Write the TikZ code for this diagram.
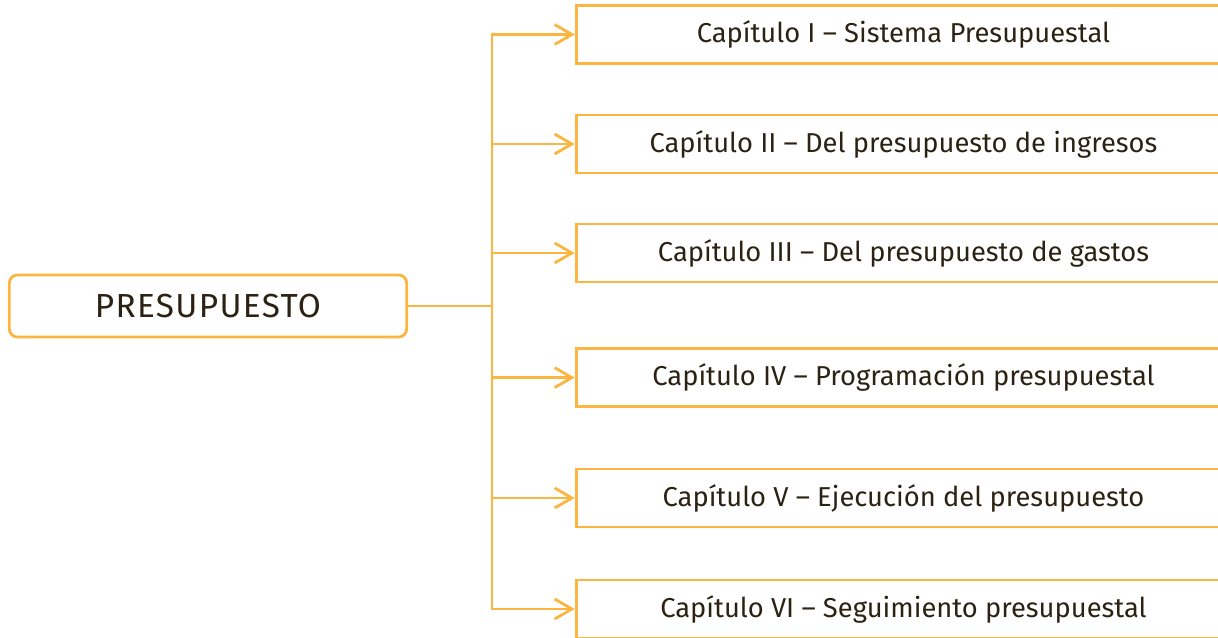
\documentclass[tikz,border=0pt]{standalone}
\usepackage{fontspec}
\setmainfont{Fira Sans}
\usetikzlibrary{arrows.meta, positioning}

\definecolor{naranja}{HTML}{FBB540}
\definecolor{texto}{HTML}{2B2213}

\begin{document}
\begin{tikzpicture}[x=0.75pt, y=-0.75pt, line width=2.1pt, color=naranja,
	>={Straight Barb[length=13pt,width=15pt]},
	raiz/.style={draw, rounded corners=6pt, minimum width=298pt, minimum height=46.5pt, inner sep=0pt, text=texto, font=\fontsize{25}{29}\selectfont\addfontfeatures{LetterSpace=4}},
	capitulo/.style={draw, minimum width=491pt, minimum height=43.5pt, inner sep=0pt, text=texto, font=\fontsize{20.5}{24}\selectfont}]
	\useasboundingbox (0,0) rectangle (1218,637);

	\node[raiz]      (pres)  at (208,306)     {PRESUPUESTO};
	\node[capitulo]  (cap1)  at (903.5,34.5)  {Capítulo I – Sistema Presupuestal};
	\node[capitulo]  (cap2)  at (903.5,144)   {Capítulo II – Del presupuesto de ingresos};
	\node[capitulo]  (cap3)  at (903.5,253)   {Capítulo III – Del presupuesto de gastos};
	\node[capitulo]  (cap4)  at (903.5,377.6) {Capítulo IV – Programación presupuestal};
	\node[capitulo]  (cap5)  at (903.5,498)   {Capítulo V – Ejecución del presupuesto};
	\node[capitulo]  (cap6)  at (903.5,609)   {Capítulo VI – Seguimiento presupuestal};
	\coordinate      (bus)   at (492,306);

	\draw (pres.east) -- (bus);
	\foreach \c in {cap1,cap2,cap3,cap4,cap5,cap6}
		\draw[->] (bus) |- (\c.west);
\end{tikzpicture}
\end{document}
